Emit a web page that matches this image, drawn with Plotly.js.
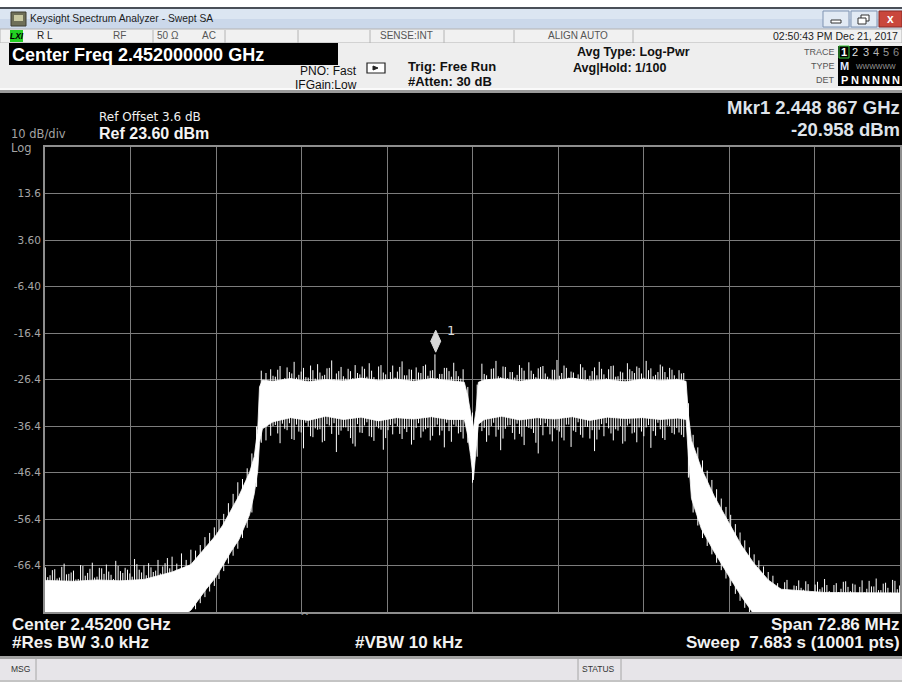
<!DOCTYPE html>
<html><head><meta charset="utf-8">
<script src="https://cdn.plot.ly/plotly-3.0.1.min.js"></script>
<style>html,body{margin:0;padding:0;background:#fff;overflow:hidden}#chart{width:902px;height:682px}</style>
</head><body><div id="chart"></div>
<script>
// ---- trace samples (MHz) ----
const freqMHz = [
2415.6,2416.0,2416.4,2416.8,2417.2,2417.6,2418.0,2418.4,2418.8,2419.2,
2419.6,2420.0,2420.4,2420.8,2421.2,2421.6,2422.0,2422.4,2422.8,2423.2,
2423.6,2424.0,2424.4,2424.8,2425.2,2425.6,2426.0,2426.4,2426.8,2427.2,
2427.6,2428.0,2428.4,2428.8,2429.2,2429.6,2430.0,2430.4,2430.8,2431.2,
2431.6,2432.0,2432.4,2432.8,2433.2,2433.6,2434.0,2434.4,2434.8,2435.2,
2435.6,2436.0,2436.4,2436.8,2437.2,2437.6,2438.0,2438.4,2438.8,2439.2,
2439.6,2440.0,2440.4,2440.8,2441.2,2441.6,2442.0,2442.4,2442.8,2443.2,
2443.6,2444.0,2444.4,2444.8,2445.2,2445.6,2446.0,2446.4,2446.8,2447.2,
2447.6,2448.0,2448.4,2448.8,2449.2,2449.6,2450.0,2450.4,2450.8,2451.2,
2451.6,2452.0,2452.4,2452.8,2453.2,2453.6,2454.0,2454.4,2454.8,2455.2,
2455.6,2456.0,2456.4,2456.8,2457.2,2457.6,2458.0,2458.4,2458.8,2459.2,
2459.6,2460.0,2460.4,2460.8,2461.2,2461.6,2462.0,2462.4,2462.8,2463.2,
2463.6,2464.0,2464.4,2464.8,2465.2,2465.6,2466.0,2466.4,2466.8,2467.2,
2467.6,2468.0,2468.4,2468.8,2469.2,2469.6,2470.0,2470.4,2470.8,2471.2,
2471.6,2472.0,2472.4,2472.8,2473.2,2473.6,2474.0,2474.4,2474.8,2475.2,
2475.6,2476.0,2476.4,2476.8,2477.2,2477.6,2478.0,2478.4,2478.8,2479.2,
2479.6,2480.0,2480.4,2480.8,2481.2,2481.6,2482.0,2482.4,2482.8,2483.2,
2483.6,2484.0,2484.4,2484.8,2485.2,2485.6,2486.0,2486.4,2486.8,2487.2,
2487.6,2488.0,2488.4];

// upper excursion of the noisy trace at each sample (dBm)
const peakDbm = [
-66.8,-68.5,-67.2,-69.0,-66.0,-68.2,-67.5,-69.3,-66.5,-68.0,-65.8,-68.8,-67.0,-66.2,-68.4,-65.4,-67.6,-66.9,-68.1,-65.0,-67.3,-66.4,-65.9,-67.8,-65.2,-66.6,-64.8,
-64.5,-66.0,-63.8,-65.2,-63.0,
-63.2,-62.0,-60.3,-59.4,-58.2,-56.6,-55.3,-53.0,-51.0,-48.5,-47.8,-45.5,-42.3,-36.5,-24.5,-25.0,
-24.2,-25.8,-23.5,-26.1,-24.8,-22.6,-25.4,-23.9,-26.0,-24.4,-23.1,-25.6,-24.0,-22.3,-25.1,-23.7,-26.2,-24.6,-23.3,-25.3,-24.1,-22.9,-25.9,-23.6,-24.9,-26.3,-23.4,-24.7,-22.5,-25.5,-24.3,-23.8,-25.0,-23.2,-24.5,-21.0,-25.2,-23.9,-24.6,-22.8,-25.7,-24.2,
-28.0,-33.5,-27.5,
-23.0,-25.5,-24.1,-22.4,-25.9,-23.7,-24.8,-26.0,-23.3,-24.5,-22.7,-25.2,-24.0,-23.5,-25.8,-24.3,-22.2,-25.0,-23.9,-24.7,-26.1,-23.1,-24.4,-25.6,-23.8,-22.6,-25.3,-24.2,-23.4,-25.7,-24.9,-22.9,-24.6,-23.6,-25.1,-22.4,-24.0,-25.4,-23.2,-24.8,-23.9,-25.5,-24.4,-25.0,
-31.5,-38.3,-41.0,-43.8,-46.0,-48.0,-50.0,-52.0,-53.8,-55.5,-57.5,-59.3,-61.0,-62.5,-64.0,-65.3,-66.6,-67.8,-68.6,
-70.2,-71.8,-69.5,-72.0,-70.8,-71.2,-69.8,-72.3,-70.5,-71.5,-69.3,-71.9,-70.6,-72.1,-69.9,-71.0,-70.3,-72.4,-69.6,-71.4,-70.9,-69.2,-71.7,-70.1,-72.2,-69.7,-70.7];

// lower excursion of the noisy trace at each sample (dBm)
const dipDbm = [
-77.5,-78.0,-76.8,-78.0,-77.2,-78.0,-77.8,-76.5,-78.0,-77.0,-78.0,-76.9,-78.0,-77.4,-78.0,-77.1,-76.7,-78.0,-77.6,-78.0,-76.6,-78.0,-77.3,-78.0,-76.8,-77.9,-77.0,
-77.0,-76.5,-77.8,-76.2,-75.8,
-75.8,-74.5,-73.2,-72.0,-70.8,-69.3,-67.6,-66.0,-64.3,-62.8,-60.5,-58.3,-55.0,-49.5,-40.0,-39.5,
-38.5,-36.2,-40.1,-37.0,-35.8,-39.4,-37.6,-41.2,-36.5,-38.8,-37.2,-39.9,-36.0,-38.1,-42.0,-37.4,-36.7,-39.0,-40.8,-37.8,-36.3,-38.6,-39.6,-36.9,-41.5,-37.3,-38.2,-36.4,-39.2,-37.7,-40.4,-36.8,-38.9,-37.1,-39.5,-36.6,-38.4,-41.0,-37.5,-36.1,-38.0,-39.1,
-40.0,-48.6,-43.0,
-37.5,-39.8,-36.4,-38.7,-41.6,-37.0,-36.2,-39.3,-38.1,-40.5,-36.8,-37.9,-42.3,-38.4,-36.5,-39.7,-37.3,-38.9,-36.1,-40.9,-37.7,-38.3,-36.6,-39.1,-41.8,-37.2,-38.6,-36.9,-39.5,-37.4,-40.2,-36.3,-38.0,-39.9,-37.6,-36.7,-41.1,-38.5,-37.1,-39.4,-36.4,-38.2,-37.8,-38.8,
-47.5,-55.0,-57.8,-60.5,-62.2,-64.0,-65.8,-67.4,-69.2,-70.8,-72.5,-74.0,-75.5,-77.0,-78.0,-78.0,-78.0,-78.0,-78.0,
-77.6,-78.0,-77.2,-78.0,-77.8,-76.9,-78.0,-77.4,-78.0,-77.1,-78.0,-77.7,-76.8,-78.0,-77.3,-78.0,-77.5,-78.0,-77.0,-78.0,-77.9,-76.7,-78.0,-77.2,-78.0,-77.6,-78.0];

// in-between samples on the floors and the two plateaus (MHz, dBm)
const midFreqMHz = [
2415.8,2416.2,2416.6,2417.0,2417.4,2417.8,2418.2,2418.6,2419.0,2419.4,2419.8,2420.2,2420.6,2421.0,2421.4,2421.8,2422.2,2422.6,2423.0,2423.4,2423.8,2424.2,2424.6,2425.0,2425.4,2425.8,2426.2,
2435.0,2435.4,2435.8,2436.2,2436.6,2437.0,2437.4,2437.8,2438.2,2438.6,2439.0,2439.4,2439.8,2440.2,2440.6,2441.0,2441.4,2441.8,2442.2,2442.6,2443.0,2443.4,2443.8,2444.2,2444.6,2445.0,2445.4,2445.8,2446.2,2446.6,2447.0,2447.4,2447.8,2448.2,2448.6,2449.0,2449.4,2449.8,2450.2,2450.6,2451.0,
2453.0,2453.4,2453.8,2454.2,2454.6,2455.0,2455.4,2455.8,2456.2,2456.6,2457.0,2457.4,2457.8,2458.2,2458.6,2459.0,2459.4,2459.8,2460.2,2460.6,2461.0,2461.4,2461.8,2462.2,2462.6,2463.0,2463.4,2463.8,2464.2,2464.6,2465.0,2465.4,2465.8,2466.2,2466.6,2467.0,2467.4,2467.8,2468.2,2468.6,2469.0,2469.4,2469.8,
2478.2,2478.6,2479.0,2479.4,2479.8,2480.2,2480.6,2481.0,2481.4,2481.8,2482.2,2482.6,2483.0,2483.4,2483.8,2484.2,2484.6,2485.0,2485.4,2485.8,2486.2,2486.6,2487.0,2487.4,2487.8,2488.2];
const midPeakDbm = [
-68.9,-67.4,-69.2,-66.7,-68.3,-67.9,-69.4,-66.3,-68.6,-67.1,-69.0,-66.9,-68.2,-67.7,-69.3,-66.5,-68.0,-67.3,-68.8,-66.1,-67.9,-68.5,-66.8,-67.5,-68.1,-65.9,-67.0,
-25.6,-24.3,-26.4,-23.8,-25.1,-26.0,-24.7,-25.9,-23.4,-26.2,-24.9,-25.4,-23.9,-26.3,-24.6,-25.7,-24.1,-26.1,-25.0,-23.6,-25.8,-24.5,-26.4,-23.3,-25.3,-24.8,-26.0,-23.7,-25.5,-24.2,-26.3,-24.9,-23.5,-25.6,-24.4,-26.1,-25.2,-23.9,-25.8,-24.6,-26.2,
-25.2,-26.3,-24.0,-25.7,-23.6,-26.1,-24.8,-25.4,-23.9,-26.4,-24.5,-25.9,-23.7,-25.1,-26.2,-24.3,-25.6,-23.4,-26.0,-24.9,-25.3,-23.8,-26.3,-24.6,-25.5,-24.1,-26.1,-23.5,-25.8,-24.7,-26.4,-24.2,-25.0,-23.9,-26.0,-24.4,-25.7,-24.8,-23.6,-25.9,-24.3,-26.2,-25.1,
-71.3,-70.0,-72.1,-70.7,-69.6,-71.6,-70.4,-72.0,-69.9,-71.1,-70.6,-72.3,-70.2,-71.4,-69.8,-71.9,-70.5,-71.0,-72.2,-69.7,-70.9,-71.7,-70.3,-71.2,-69.5,-71.5];
const midDipDbm = [
-77.8,-76.9,-78.0,-77.3,-76.6,-78.0,-77.5,-76.8,-78.0,-77.1,-76.7,-78.0,-77.6,-76.9,-78.0,-77.2,-76.5,-78.0,-77.4,-76.8,-78.0,-77.0,-76.6,-78.0,-77.7,-76.9,-78.0,
-36.4,-38.0,-35.9,-37.3,-39.2,-36.1,-37.8,-35.7,-38.6,-36.9,-37.1,-39.6,-36.3,-35.8,-38.3,-36.7,-37.5,-40.2,-36.0,-37.9,-35.6,-38.8,-36.5,-37.2,-39.0,-36.2,-35.9,-38.1,-37.0,-36.6,-39.4,-35.8,-37.6,-36.8,-38.5,-36.1,-37.4,-35.7,-39.8,-36.4,-37.7,
-36.8,-38.4,-35.7,-37.2,-39.1,-36.3,-37.9,-35.9,-38.7,-36.5,-37.0,-40.0,-36.2,-35.8,-38.2,-36.9,-37.6,-39.5,-36.1,-37.4,-35.6,-38.9,-36.6,-37.3,-39.3,-36.0,-35.8,-38.0,-37.1,-36.4,-39.7,-35.9,-37.8,-36.7,-38.6,-36.2,-37.5,-35.7,-39.0,-36.3,-37.9,-36.8,-38.3,
-77.1,-78.0,-76.8,-77.5,-78.0,-76.9,-77.3,-78.0,-76.7,-77.6,-78.0,-77.0,-76.8,-78.0,-77.4,-76.6,-78.0,-77.2,-76.9,-78.0,-77.5,-76.7,-78.0,-77.3,-76.8,-78.0];

// dense core of the trace (top / bottom edge), dBm
const coreFreqMHz = [2415.57,2418.0,2420.0,2422.0,2424.0,2426.4,2428.0,2429.3,2430.1,2430.7,2431.4,2432.1,2433.0,2433.4,2433.7,2433.85,2434.1,
 2435.0,2436.5,2438.0,2439.5,2441.0,2442.5,2444.0,2445.5,2447.0,2448.5,2450.0,2451.3,
 2451.6,2451.85,2452.07,2452.3,2452.5,
 2453.0,2454.5,2456.0,2457.5,2459.0,2460.5,2462.0,2463.5,2465.0,2466.5,2468.0,2469.5,2470.2,
 2470.4,2470.66,2471.5,2472.6,2473.8,2474.9,2476.0,2477.2,2478.3,2482.0,2488.43];
const coreTopDbm = [-69.6,-69.8,-69.5,-69.7,-69.4,-67.8,-66.2,-62.3,-60.0,-57.8,-54.5,-51.4,-46.4,-43.0,-37.0,-28.0,-26.5,
 -26.8,-26.2,-26.9,-26.4,-26.7,-26.1,-26.6,-26.3,-26.8,-26.2,-26.7,-27.0,
 -30.0,-34.0,-37.0,-33.0,-27.0,
 -26.5,-26.2,-26.8,-26.3,-26.6,-26.1,-26.7,-26.4,-26.9,-26.3,-26.6,-26.4,-26.8,
 -34.0,-39.5,-45.5,-51.5,-57.0,-62.0,-66.0,-69.5,-71.5,-72.2,-72.3];
const coreBotDbm = [-79,-79,-79,-79,-79,-79,-76,-71.5,-69,-66.5,-63.5,-60.8,-55.5,-51,-46,-40,-37,
 -35.5,-34.6,-35.2,-34.3,-35.0,-34.5,-35.3,-34.6,-34.9,-34.4,-35.0,-35.0,
 -38.5,-43.0,-48.0,-42.0,-36.0,
 -35.0,-34.3,-35.1,-34.6,-34.9,-34.4,-35.2,-34.5,-34.8,-34.6,-35.0,-34.7,-35.0,
 -43.0,-52.0,-58.5,-63.5,-68.5,-73.0,-77.0,-79,-79,-79,-79];

const yTickVals = [13.6,3.6,-6.4,-16.4,-26.4,-36.4,-46.4,-56.4,-66.4];
const yTickText = ['13.6','3.60','-6.40','-16.4','-26.4','-36.4','-46.4','-56.4','-66.4'];
const markerFreqMHz = 2448.867, markerDbm = -20.958;

// ---- pixel helpers for the instrument chrome ----
const L=45, R=900, T=147, B=612;
const X = px => (px-L)/(R-L);
const Y = py => (B-py)/(B-T);
const shapes = [];
function rect(x0,y0,x1,y1,fill,line,lw){
  shapes.push({type:'rect',xref:'paper',yref:'paper',x0:X(x0),x1:X(x1),y0:Y(y1),y1:Y(y0),
    fillcolor:fill||'rgba(0,0,0,0)',line:{color:line||'rgba(0,0,0,0)',width:lw||0},layer:'above'});
}
function vline(x,y0,y1,c,w){ shapes.push({type:'line',xref:'paper',yref:'paper',x0:X(x),x1:X(x),y0:Y(y0),y1:Y(y1),line:{color:c,width:w||1},layer:'above'}); }
function poly(pts,fill,line){
  const d = pts.map((p,i)=>(i?'L':'M')+X(p[0])+','+Y(p[1])).join(' ')+' Z';
  shapes.push({type:'path',xref:'paper',yref:'paper',path:d,fillcolor:fill,line:{color:line||fill,width:1},layer:'above'});
}
const annotations = [];
function txt(t,px,py,o){
  o=o||{};
  annotations.push({xref:'paper',yref:'paper',x:X(px),y:Y(py),text:o.bold?'<b>'+t+'</b>':t,showarrow:false,
    xanchor:o.anchor||'left',yanchor:'middle',borderpad:0,borderwidth:0,
    font:{family:o.family||'Liberation Sans',size:o.size||12,color:o.color||'#f2f2f2'}});
}

// window chrome
rect(0,0,902,7,'#ffffff');
rect(0,7,902,9,'#4a4f58');
rect(0,9,902,19,'#dce6f2');
rect(0,19,902,29,'#cbd8ea');
rect(11,12,26,26,'#6e6f58','#3d3d30',1);
rect(14,15,23,21,'#c9c9a2');
rect(823,11,849,27,'#e2eaf4','#7f93b2',1);
rect(831,20,841,23,'#ffffff','#333',1);
rect(851,11,877,27,'#e2eaf4','#7f93b2',1);
rect(861,15,869,21,'#ffffff','#333',1);
rect(858,18,866,24,'#ffffff','#333',1);
rect(879,11,902,27,'#c9473c','#8a2b25',1);
rect(0,29,902,43,'#f1f1f1','#b3b3b3',1);
[153,225,298,370,444,514,633].forEach(x=>vline(x,30,43,'#b4b4b4',1));
rect(10,30,23,42,'#22d022');
rect(0,43,902,90,'#eeeeee');
rect(0,88,902,90,'#fafafa');
rect(0,90,902,93,'#9a9a9a');
rect(9,43,338,65,'#000000');
rect(367,63,385,73,'#ffffff','#222',1.2);
poly([[373,66],[378,68],[373,70]],'#222');
rect(838,46,902,86,'#000000');
rect(839,46,849,58,null,'#39c639',1);
rect(0,656,902,659,'#a3a3a3');
rect(0,659,902,682,'#e7e5e9');
rect(0,680,902,682,'#c4c4c4');
[36,578,621].forEach(x=>vline(x,659,680,'#a6a6a6',1));

// marker diamond (fixed pixel size, anchored on the marker point)
shapes.push({type:'path',xref:'x',yref:'y',xsizemode:'pixel',ysizemode:'pixel',
  xanchor:markerFreqMHz,yanchor:markerDbm,path:'M0,2 L5,13 L0,24 L-5,13 Z',
  fillcolor:'#d9d9d9',line:{color:'#d9d9d9',width:1},layer:'above'});
annotations.push({xref:'x',yref:'y',x:markerFreqMHz,y:markerDbm,text:'1',showarrow:false,
  xanchor:'left',yanchor:'middle',xshift:9,yshift:24,font:{family:'DejaVu Sans',size:13,color:'#dcdcdc'}});

// texts
txt('Keysight Spectrum Analyzer - Swept SA',30,18.5,{size:10.3,color:'#1b1b1b'});
txt('x',890.5,18.5,{size:12,bold:true,color:'#ffffff',anchor:'center'});
txt('<i><b>LXI</b></i>',16.5,36,{size:8.5,color:'#000',anchor:'center'});
txt('R L',37,36,{size:10,color:'#222'});
txt('RF',113,36,{size:10,color:'#555'});
txt('50 Ω',157,36,{size:10,color:'#555'});
txt('AC',202,36,{size:10,color:'#555'});
txt('SENSE:INT',380,36,{size:10,color:'#555'});
txt('ALIGN AUTO',548,36,{size:10,color:'#555'});
txt('02:50:43 PM Dec 21, 2017',898,36,{size:10.5,color:'#222',anchor:'right'});
txt('Center Freq 2.452000000 GHz',12,55,{size:18,bold:true,color:'#ffffff'});
txt('PNO: Fast',357,71,{size:12,color:'#111',anchor:'right'});
txt('IFGain:Low',357,85,{size:12,color:'#111',anchor:'right'});
txt('Trig: Free Run',408,67,{size:13,bold:true,color:'#111'});
txt('#Atten: 30 dB',408,82,{size:13,bold:true,color:'#111'});
txt('Avg Type: Log-Pwr',577,52,{size:12.5,bold:true,color:'#111'});
txt('Avg|Hold: 1/100',573,68,{size:12.5,bold:true,color:'#111'});
txt('TRACE',835,52,{size:9,color:'#555',anchor:'right'});
txt('TYPE',835,66,{size:9,color:'#555',anchor:'right'});
txt('DET',835,80,{size:9,color:'#555',anchor:'right'});
const trCols=['#ffffff','#e6e6e6','#cccccc','#b4b4b4','#9a9a9a','#888888'];
const trX=[844,855,865.5,876,886,896];
['1','2','3','4','5','6'].forEach((d,i)=>txt(d,trX[i],52,{size:11,bold:i===0,color:trCols[i],anchor:'center'}));
txt('M',844,66,{size:11,bold:true,color:'#dfe8ff',anchor:'center'});
txt('WWWWWW',876,66,{size:7,color:'#9a9a9a',anchor:'center'});
['P','N','N','N','N','N'].forEach((d,i)=>txt(d,trX[i],80,{size:11,bold:true,color:'#ffffff',anchor:'center'}));

txt('Ref Offset 3.6 dB',99,117,{size:12,family:'DejaVu Sans',color:'#f0f0f0'});
txt('Ref 23.60 dBm',99,133.5,{size:16,bold:true,color:'#f4f4f4'});
txt('10 dB/div',11,134,{size:11.5,family:'DejaVu Sans',color:'#a4a4a4'});
txt('Log',11,148,{size:11.5,family:'DejaVu Sans',color:'#a4a4a4'});
txt('Mkr1 2.448 867 GHz',900,107.5,{size:18.5,bold:true,color:'#dfe3ea',anchor:'right'});
txt('-20.958 dBm',900,129.5,{size:18.5,bold:true,color:'#dfe3ea',anchor:'right'});
txt('^',304,616,{size:11,family:'DejaVu Sans',color:'#a0a0a0',anchor:'center'});
txt('Center 2.45200 GHz',12,624,{size:17,bold:true});
txt('#Res BW 3.0 kHz',12,642.5,{size:17,bold:true});
txt('#VBW 10 kHz',355,642.5,{size:17,bold:true});
txt('Span 72.86 MHz',900,624,{size:17,bold:true,anchor:'right'});
txt('Sweep&nbsp;&nbsp;7.683 s (10001 pts)',900,642.5,{size:17,bold:true,anchor:'right'});
txt('MSG',11,669,{size:8.5,color:'#333'});
txt('STATUS',582,669,{size:8.5,color:'#333'});

// ---- traces ----
function strokes(f,up,dn){
  const sx=[], sy=[];
  for(let i=0;i<f.length;i++){ sx.push(f[i],f[i],null); sy.push(up[i],dn[i],null); }
  return {x:sx,y:sy};
}
const s1 = strokes(freqMHz,peakDbm,dipDbm);
const s2 = strokes(midFreqMHz,midPeakDbm,midDipDbm);
const coreX = coreFreqMHz.concat(coreFreqMHz.slice().reverse());
const coreY = coreTopDbm.concat(coreBotDbm.slice().reverse());
const data = [
 {x:s1.x,y:s1.y,mode:'lines',line:{width:1,color:'#ffffff'},connectgaps:false,hoverinfo:'skip'},
 {x:s2.x,y:s2.y,mode:'lines',line:{width:1,color:'#ffffff'},connectgaps:false,hoverinfo:'skip'},
 {x:coreX,y:coreY,mode:'lines',fill:'toself',fillcolor:'#ffffff',line:{width:0.8,color:'#ffffff'},hoverinfo:'skip'}
];
const layout = {
 width:902,height:682,margin:{l:L,r:902-R,t:T,b:682-B,pad:0},
 paper_bgcolor:'#000000',plot_bgcolor:'#000000',showlegend:false,
 xaxis:{range:[2415.57,2488.43],tick0:2415.57,dtick:7.286,showgrid:true,gridcolor:'#7c7c7c',gridwidth:1,
   showticklabels:false,ticks:'',zeroline:false,showline:true,mirror:true,linecolor:'#8e8e8e',linewidth:2,fixedrange:true},
 yaxis:{range:[-76.4,23.6],tickmode:'array',tickvals:yTickVals,ticktext:yTickText,showgrid:true,gridcolor:'#7c7c7c',gridwidth:1,
   tickfont:{family:'DejaVu Sans',size:10.5,color:'#a6a6a6'},ticks:'',zeroline:false,showline:true,mirror:true,
   linecolor:'#8e8e8e',linewidth:2,fixedrange:true},
 shapes:shapes,annotations:annotations
};
Plotly.newPlot('chart',data,layout,{staticPlot:true,displayModeBar:false});
</script></body></html>
